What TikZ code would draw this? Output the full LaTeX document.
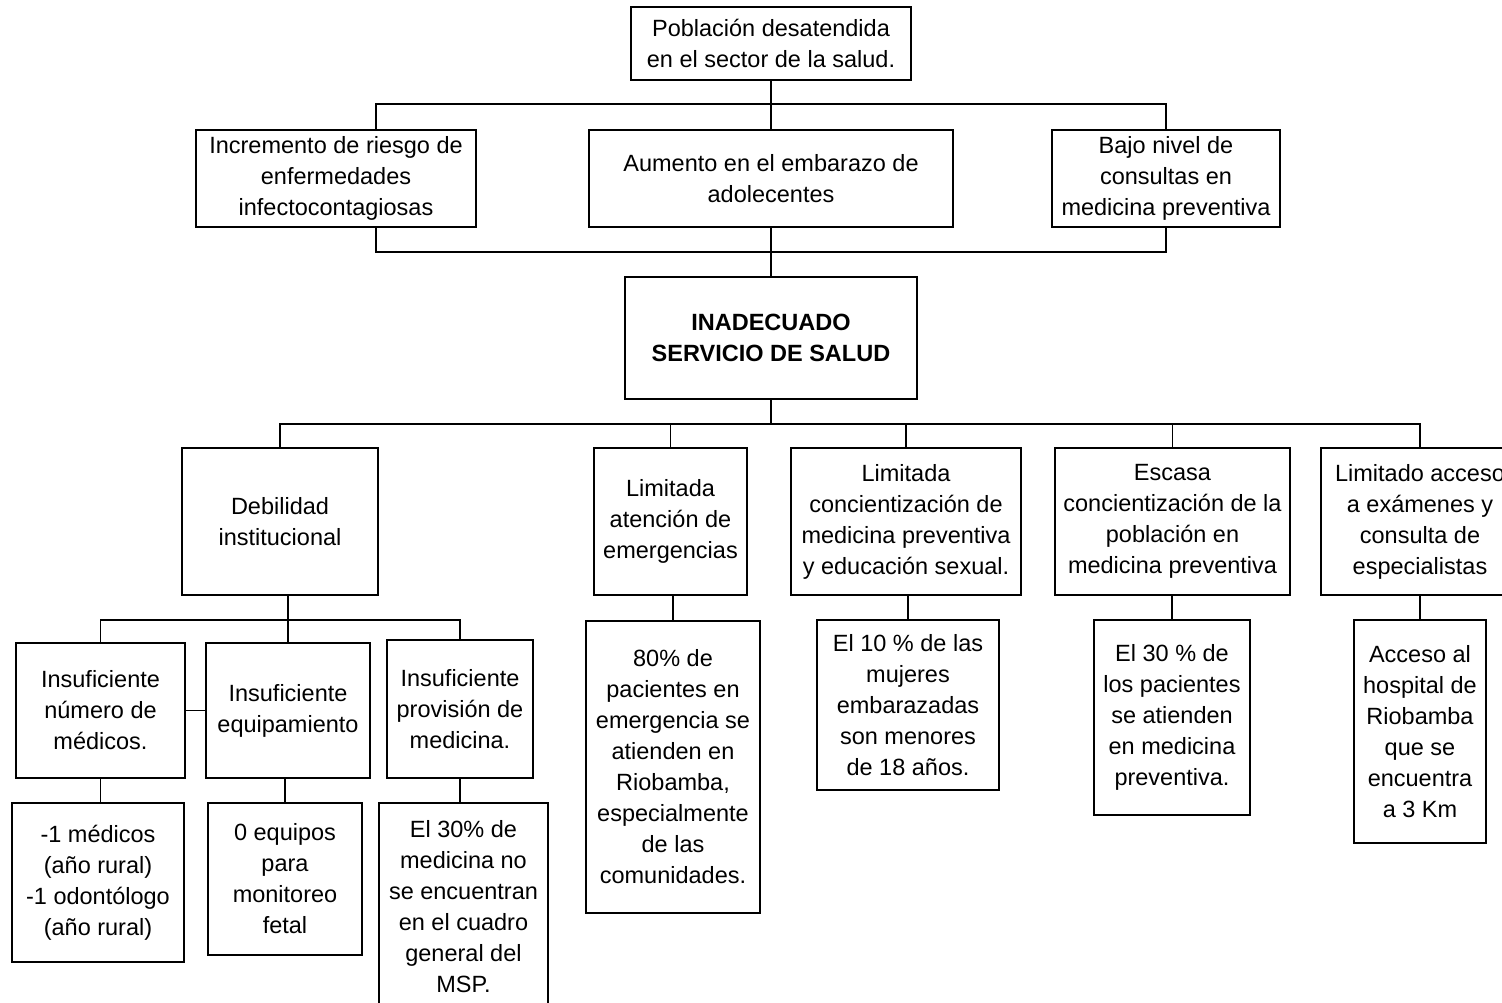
\documentclass[tikz,border=0pt]{standalone}
\usepackage{fontspec}
\setmainfont{Liberation Sans}
\begin{document}
\begin{tikzpicture}[x=1pt,y=-1pt,
  bx/.style={draw, line width=1.2pt, inner sep=0pt, align=center,
    font=\fontsize{23.5}{31}\selectfont},
  ln/.style={line width=1.2pt}]
\useasboundingbox (0,0) rectangle (1502,1002);
\fill[white] (0,0) rectangle (1502,1002);
% top
\node[bx, minimum width=280, minimum height=73] (top) at (771,43.5) {Población desatendida\\en el sector de la salud.};
% row 2
\node[bx, minimum width=280, minimum height=97] (A) at (336,178.5) {Incremento de riesgo de\\enfermedades\\infectocontagiosas};
\node[bx, minimum width=364, minimum height=97] (B) at (771,178.5) {Aumento en el embarazo de\\adolecentes};
\node[bx, minimum width=228, minimum height=97] (C) at (1166,178.5) {Bajo nivel de\\consultas en\\medicina preventiva};
% main
\node[bx, minimum width=292, minimum height=122, font=\fontsize{23.5}{31}\selectfont\bfseries] (M) at (771,338) {INADECUADO\\SERVICIO DE SALUD};
% row 3
\node[bx, minimum width=196, minimum height=147] (D) at (280,521.5) {Debilidad\\institucional};
\node[bx, minimum width=153, minimum height=147] (E) at (670.5,521.5) {Limitada\\atención de\\emergencias};
\node[bx, minimum width=230, minimum height=147] (F) at (906,521.5) {Limitada\\concientización de\\medicina preventiva\\y educación sexual.};
\node[bx, minimum width=235, minimum height=147] (G) at (1172.5,521.5) {Escasa\\concientización de la\\población en\\medicina preventiva};
\node[bx, minimum width=198, minimum height=147] (H) at (1420,521.5) {Limitado acceso\\a exámenes y\\consulta de\\especialistas};
% row 4
\node[bx, minimum width=169, minimum height=135] (I) at (100.5,710.5) {Insuficiente\\número de\\médicos.};
\node[bx, minimum width=164, minimum height=135] (J) at (288,710.5) {Insuficiente\\equipamiento};
\node[bx, minimum width=146, minimum height=138] (K) at (460,709) {Insuficiente\\provisión de\\medicina.};
% leaves
\node[bx, minimum width=172, minimum height=159] (I2) at (98,882.5) {-1 médicos\\(año rural)\\-1 odontólogo\\(año rural)};
\node[bx, minimum width=154, minimum height=152] (J2) at (285,879) {0 equipos\\para\\monitoreo\\fetal};
\node[bx, minimum width=169, minimum height=207] (K2) at (463.5,906.5) {El 30\% de\\medicina no\\se encuentran\\en el cuadro\\general del\\MSP.};
\node[bx, minimum width=174, minimum height=292] (E2) at (673,767) {80\% de\\pacientes en\\emergencia se\\atienden en\\Riobamba,\\especialmente\\de las\\comunidades.};
\node[bx, minimum width=182, minimum height=170] (F2) at (908,705) {El 10 \% de las\\mujeres\\embarazadas\\son menores\\de 18 años.};
\node[bx, minimum width=156, minimum height=195] (G2) at (1172,717.5) {El 30 \% de\\los pacientes\\se atienden\\en medicina\\preventiva.};
\node[bx, minimum width=132, minimum height=223] (H2) at (1420,731.5) {Acceso al\\hospital de\\Riobamba\\que se\\encuentra\\a 3 Km};
% bus coordinates
\coordinate (b1) at (771,104);
\coordinate (b2) at (771,252);
\coordinate (b3) at (771,424);
\coordinate (b4) at (288,620);
% connectors
\draw[ln] (top.south) -- (b1);
\draw[ln] ([xshift=40pt]A.north) |- (b1) -| (C.north);
\draw[ln] (b1) -- (B.north);
\draw[ln] ([xshift=40pt]A.south) |- (b2) -| (C.south);
\draw[ln] (B.south) -- (M.north);
\draw[ln] (M.south) -- (b3);
\draw[ln] (D.north) |- (b3) -| (H.north);
\draw[ln] (E.north) -- (E.north |- b3);
\draw[ln] (F.north) -- (F.north |- b3);
\draw[ln] (G.north) -- (G.north |- b3);
\draw[ln] (J.north |- D.south) -- (J.north);
\draw[ln] (I.north) |- (b4) -| (K.north);
\draw[ln] (I.east) -- (J.west);
\draw[ln] (I.south) -- (I.south |- I2.north);
\draw[ln] (J2.north |- J.south) -- (J2.north);
\draw[ln] (K.south) -- (K.south |- K2.north);
\draw[ln] (E2.north |- E.south) -- (E2.north);
\draw[ln] (F.south -| F2.north) -- (F2.north);
\draw[ln] (G2.north |- G.south) -- (G2.north);
\draw[ln] (H.south) -- (H2.north);
\end{tikzpicture}
\end{document}
